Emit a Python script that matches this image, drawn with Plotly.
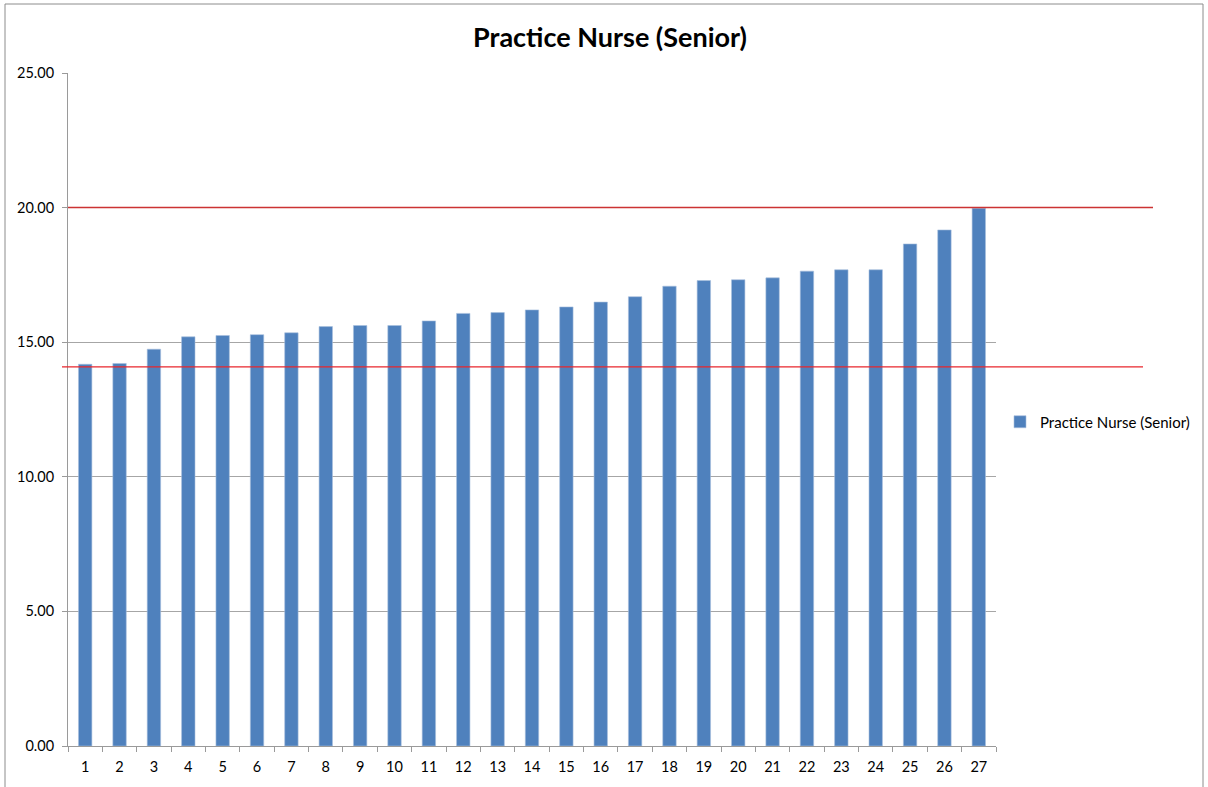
import plotly.graph_objects as go

categories = [str(i) for i in range(1, 28)]
values = [14.18, 14.21, 14.74, 15.20, 15.25, 15.28, 15.35, 15.58, 15.62,
          15.62, 15.79, 16.07, 16.10, 16.20, 16.31, 16.49, 16.69, 17.08,
          17.29, 17.32, 17.39, 17.64, 17.69, 17.69, 18.65, 19.17, 19.98]
series_name = "Practice Nurse (Senior)"
upper_line = 20.0
lower_line = 14.08
y_ticks = [0, 5, 10, 15, 20, 25]

W, H = 1208, 787
L, R, T, B = 68, 212, 73, 41
pw = W - L - R
ph = H - T - B

fig = go.Figure()
fig.add_trace(go.Bar(
    x=categories, y=values, name=series_name,
    marker=dict(color="#4F81BD", line=dict(color="#A7C0DE", width=0.6)),
    showlegend=True,
))

fig.update_layout(
    width=W, height=H, autosize=False,
    margin=dict(l=L, r=R, t=T, b=B, autoexpand=False),
    paper_bgcolor="white", plot_bgcolor="white",
    bargap=0.61,
    font=dict(family="Lato, Open Sans, sans-serif", size=14.5, color="#000000"),
    title=dict(text="<b>Practice Nurse (Senior)</b>", x=610 / W, xanchor="center",
               y=1 - 38 / H, yanchor="middle", font=dict(size=27, color="#000000")),
    showlegend=True,
    legend=dict(xref="container", yref="container", x=1000 / W, xanchor="left",
                y=1 - 422 / H, yanchor="middle",
                font=dict(size=15), bgcolor="rgba(0,0,0,0)", itemwidth=30),
    xaxis=dict(type="category", showgrid=False, showline=True, linecolor="#9a9a9a",
               linewidth=1, ticks="outside", tickson="boundaries", ticklen=5,
               tickcolor="#9a9a9a", tickfont=dict(size=14.5), ticklabelstandoff=8),
    yaxis=dict(range=[0, 25], tickvals=y_ticks, tickformat=".2f", showgrid=True,
               gridcolor="#a6a6a6", gridwidth=1, showline=True, linecolor="#9a9a9a",
               linewidth=1, ticks="outside", ticklen=5, tickcolor="#9a9a9a",
               tickfont=dict(size=14.5), zeroline=False, ticklabelstandoff=5),
)

fig.add_shape(type="line", xref="paper", yref="y", x0=0, x1=(1153 - L) / pw,
              y0=upper_line, y1=upper_line, line=dict(color="#CC3333", width=1.5))
fig.add_shape(type="line", xref="paper", yref="y", x0=(62 - L) / pw, x1=(1143 - L) / pw,
              y0=lower_line, y1=lower_line, line=dict(color="#E8262C", width=1.3))
# outer chart frame
fig.add_shape(type="rect", xref="paper", yref="paper",
              x0=(5 - L) / pw, x1=(1203 - L) / pw,
              y0=-(B + 5) / ph, y1=1 + (T - 4) / ph,
              line=dict(color="#8c8c8c", width=1), fillcolor="rgba(0,0,0,0)", layer="below")

fig.write_html(
    "out.html",
    config={"responsive": False, "displayModeBar": False},
    post_script=("document.documentElement.style.overflow='hidden';"
                 "document.body.style.overflow='hidden';"
                 "document.body.style.margin='0';"),
)
